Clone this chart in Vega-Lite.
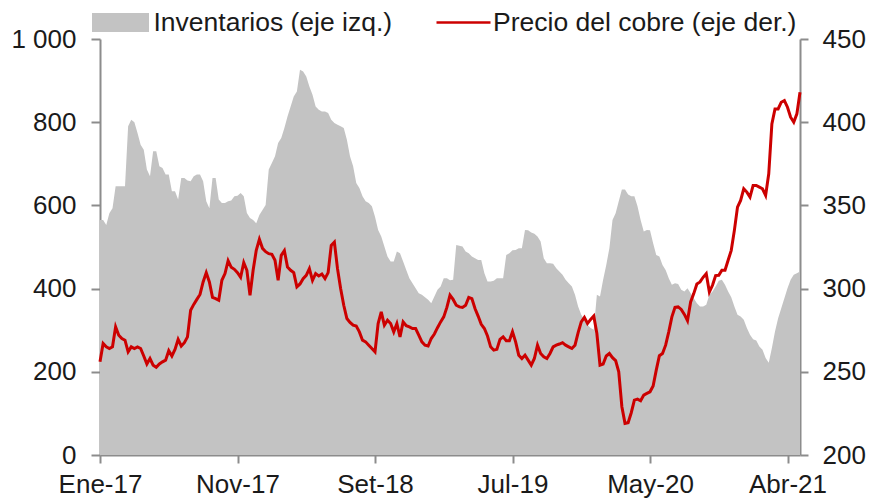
{
  "$schema": "https://vega.github.io/schema/vega-lite/v6.json",
  "width": 700,
  "height": 416,
  "autosize": {"type": "none"},
  "padding": {"left": 100, "top": 39, "right": 71, "bottom": 46},
  "background": "white",
  "config": {
    "view": {"stroke": null},
    "font": "Liberation Sans",
    "axis": {"grid": false, "domainColor": "#8c8c8c", "domainWidth": 2, "tickColor": "#8c8c8c", "tickWidth": 2, "labelFontSize": 26, "labelColor": "#1a1a1a", "labelFont": "Liberation Sans", "title": null, "labelFlush": false, "labelOverlap": false, "labelBound": false},
    "legend": {"labelFont": "Liberation Sans", "labelFontSize": 26.5, "labelColor": "#1a1a1a", "padding": 0, "titlePadding": 0, "labelLimit": 600}
  },
  "data": {"values": [
    {"fecha":"2017-01-13","inventarios":565,"precio":256},
    {"fecha":"2017-01-20","inventarios":565,"precio":267},
    {"fecha":"2017-01-27","inventarios":553,"precio":265},
    {"fecha":"2017-02-03","inventarios":581,"precio":264},
    {"fecha":"2017-02-10","inventarios":593,"precio":265},
    {"fecha":"2017-02-17","inventarios":646,"precio":277},
    {"fecha":"2017-02-24","inventarios":646,"precio":272},
    {"fecha":"2017-03-03","inventarios":646,"precio":270},
    {"fecha":"2017-03-10","inventarios":646,"precio":269},
    {"fecha":"2017-03-17","inventarios":790,"precio":262},
    {"fecha":"2017-03-24","inventarios":806,"precio":265},
    {"fecha":"2017-03-31","inventarios":800,"precio":264},
    {"fecha":"2017-04-07","inventarios":774,"precio":265},
    {"fecha":"2017-04-14","inventarios":746,"precio":264},
    {"fecha":"2017-04-21","inventarios":734,"precio":259.5},
    {"fecha":"2017-04-28","inventarios":686,"precio":254.7},
    {"fecha":"2017-05-05","inventarios":670,"precio":258},
    {"fecha":"2017-05-12","inventarios":730,"precio":254},
    {"fecha":"2017-05-19","inventarios":730,"precio":252.7},
    {"fecha":"2017-05-26","inventarios":694,"precio":254.7},
    {"fecha":"2017-06-02","inventarios":690,"precio":256},
    {"fecha":"2017-06-09","inventarios":674,"precio":257},
    {"fecha":"2017-06-16","inventarios":674,"precio":262.7},
    {"fecha":"2017-06-23","inventarios":634,"precio":259.5},
    {"fecha":"2017-06-30","inventarios":634,"precio":263.5},
    {"fecha":"2017-07-07","inventarios":614,"precio":269.5},
    {"fecha":"2017-07-14","inventarios":666,"precio":265.5},
    {"fecha":"2017-07-21","inventarios":666,"precio":267.5},
    {"fecha":"2017-07-28","inventarios":660,"precio":271},
    {"fecha":"2017-08-04","inventarios":658,"precio":287},
    {"fecha":"2017-08-11","inventarios":670,"precio":290.5},
    {"fecha":"2017-08-18","inventarios":674,"precio":293.5},
    {"fecha":"2017-08-25","inventarios":674,"precio":296.5},
    {"fecha":"2017-09-01","inventarios":658,"precio":304},
    {"fecha":"2017-09-08","inventarios":610,"precio":309.6},
    {"fecha":"2017-09-15","inventarios":593,"precio":304},
    {"fecha":"2017-09-22","inventarios":666,"precio":294.7},
    {"fecha":"2017-09-29","inventarios":666,"precio":294},
    {"fecha":"2017-10-06","inventarios":614,"precio":293},
    {"fecha":"2017-10-13","inventarios":606,"precio":305},
    {"fecha":"2017-10-20","inventarios":606,"precio":309},
    {"fecha":"2017-10-27","inventarios":610,"precio":316.8},
    {"fecha":"2017-11-03","inventarios":612,"precio":312.8},
    {"fecha":"2017-11-10","inventarios":622,"precio":311.6},
    {"fecha":"2017-11-17","inventarios":623,"precio":309.6},
    {"fecha":"2017-11-24","inventarios":630,"precio":306.8},
    {"fecha":"2017-12-01","inventarios":622,"precio":315.6},
    {"fecha":"2017-12-08","inventarios":582,"precio":311},
    {"fecha":"2017-12-15","inventarios":570,"precio":296},
    {"fecha":"2017-12-22","inventarios":565,"precio":311},
    {"fecha":"2017-12-29","inventarios":557,"precio":323},
    {"fecha":"2018-01-05","inventarios":577,"precio":329.6},
    {"fecha":"2018-01-12","inventarios":589,"precio":324.2},
    {"fecha":"2018-01-19","inventarios":601,"precio":322.2},
    {"fecha":"2018-01-26","inventarios":686,"precio":321},
    {"fecha":"2018-02-02","inventarios":702,"precio":320.6},
    {"fecha":"2018-02-09","inventarios":718,"precio":317},
    {"fecha":"2018-02-16","inventarios":750,"precio":305},
    {"fecha":"2018-02-23","inventarios":762,"precio":320},
    {"fecha":"2018-03-02","inventarios":786,"precio":322.8},
    {"fecha":"2018-03-09","inventarios":814,"precio":313},
    {"fecha":"2018-03-16","inventarios":838,"precio":311},
    {"fecha":"2018-03-23","inventarios":862,"precio":309.6},
    {"fecha":"2018-03-30","inventarios":874,"precio":301},
    {"fecha":"2018-04-06","inventarios":926,"precio":302.8},
    {"fecha":"2018-04-13","inventarios":922,"precio":306},
    {"fecha":"2018-04-20","inventarios":910,"precio":308},
    {"fecha":"2018-04-27","inventarios":886,"precio":312},
    {"fecha":"2018-05-04","inventarios":866,"precio":305},
    {"fecha":"2018-05-11","inventarios":838,"precio":309},
    {"fecha":"2018-05-18","inventarios":830,"precio":307.6},
    {"fecha":"2018-05-25","inventarios":826,"precio":308.8},
    {"fecha":"2018-06-01","inventarios":826,"precio":306},
    {"fecha":"2018-06-08","inventarios":822,"precio":309.6},
    {"fecha":"2018-06-15","inventarios":806,"precio":326},
    {"fecha":"2018-06-22","inventarios":798,"precio":328},
    {"fecha":"2018-06-29","inventarios":794,"precio":312},
    {"fecha":"2018-07-06","inventarios":790,"precio":300},
    {"fecha":"2018-07-13","inventarios":786,"precio":290},
    {"fecha":"2018-07-20","inventarios":758,"precio":282},
    {"fecha":"2018-07-27","inventarios":718,"precio":279.7},
    {"fecha":"2018-08-03","inventarios":694,"precio":278},
    {"fecha":"2018-08-10","inventarios":654,"precio":277.5},
    {"fecha":"2018-08-17","inventarios":642,"precio":274},
    {"fecha":"2018-08-24","inventarios":622,"precio":269},
    {"fecha":"2018-08-31","inventarios":610,"precio":268},
    {"fecha":"2018-09-07","inventarios":606,"precio":266},
    {"fecha":"2018-09-14","inventarios":598,"precio":264},
    {"fecha":"2018-09-21","inventarios":573,"precio":262},
    {"fecha":"2018-09-28","inventarios":541,"precio":279},
    {"fecha":"2018-10-05","inventarios":525,"precio":286},
    {"fecha":"2018-10-12","inventarios":501,"precio":278},
    {"fecha":"2018-10-19","inventarios":477,"precio":281},
    {"fecha":"2018-10-26","inventarios":465,"precio":279},
    {"fecha":"2018-11-02","inventarios":465,"precio":274},
    {"fecha":"2018-11-09","inventarios":489,"precio":279},
    {"fecha":"2018-11-16","inventarios":485,"precio":271},
    {"fecha":"2018-11-23","inventarios":465,"precio":280},
    {"fecha":"2018-11-30","inventarios":445,"precio":277.7},
    {"fecha":"2018-12-07","inventarios":425,"precio":277},
    {"fecha":"2018-12-14","inventarios":413,"precio":276},
    {"fecha":"2018-12-21","inventarios":401,"precio":276},
    {"fecha":"2018-12-28","inventarios":389,"precio":272},
    {"fecha":"2019-01-04","inventarios":385,"precio":268},
    {"fecha":"2019-01-11","inventarios":379,"precio":266},
    {"fecha":"2019-01-18","inventarios":373,"precio":265.5},
    {"fecha":"2019-01-25","inventarios":365,"precio":270},
    {"fecha":"2019-02-01","inventarios":381,"precio":272.7},
    {"fecha":"2019-02-08","inventarios":397,"precio":276.5},
    {"fecha":"2019-02-15","inventarios":405,"precio":280},
    {"fecha":"2019-02-22","inventarios":425,"precio":283},
    {"fecha":"2019-03-01","inventarios":425,"precio":288.7},
    {"fecha":"2019-03-08","inventarios":420,"precio":296},
    {"fecha":"2019-03-15","inventarios":421,"precio":293.5},
    {"fecha":"2019-03-22","inventarios":505,"precio":290},
    {"fecha":"2019-03-29","inventarios":503,"precio":289},
    {"fecha":"2019-04-05","inventarios":501,"precio":288.7},
    {"fecha":"2019-04-12","inventarios":489,"precio":290},
    {"fecha":"2019-04-19","inventarios":485,"precio":294.7},
    {"fecha":"2019-04-26","inventarios":477,"precio":294},
    {"fecha":"2019-05-03","inventarios":473,"precio":288},
    {"fecha":"2019-05-10","inventarios":469,"precio":283.5},
    {"fecha":"2019-05-17","inventarios":469,"precio":278.5},
    {"fecha":"2019-05-24","inventarios":437,"precio":276},
    {"fecha":"2019-05-31","inventarios":417,"precio":271.5},
    {"fecha":"2019-06-07","inventarios":417,"precio":265},
    {"fecha":"2019-06-14","inventarios":419,"precio":263},
    {"fecha":"2019-06-21","inventarios":425,"precio":263.5},
    {"fecha":"2019-06-28","inventarios":425,"precio":269.5},
    {"fecha":"2019-07-05","inventarios":425,"precio":271},
    {"fecha":"2019-07-12","inventarios":481,"precio":268.7},
    {"fecha":"2019-07-19","inventarios":485,"precio":268.7},
    {"fecha":"2019-07-26","inventarios":492,"precio":274},
    {"fecha":"2019-08-02","inventarios":493,"precio":268},
    {"fecha":"2019-08-09","inventarios":497,"precio":260},
    {"fecha":"2019-08-16","inventarios":497,"precio":258},
    {"fecha":"2019-08-23","inventarios":541,"precio":260},
    {"fecha":"2019-08-30","inventarios":540,"precio":257},
    {"fecha":"2019-09-06","inventarios":535,"precio":254},
    {"fecha":"2019-09-13","inventarios":532,"precio":258},
    {"fecha":"2019-09-20","inventarios":525,"precio":266},
    {"fecha":"2019-09-27","inventarios":513,"precio":261},
    {"fecha":"2019-10-04","inventarios":473,"precio":259},
    {"fecha":"2019-10-11","inventarios":461,"precio":258},
    {"fecha":"2019-10-18","inventarios":461,"precio":261},
    {"fecha":"2019-10-25","inventarios":460,"precio":265},
    {"fecha":"2019-11-01","inventarios":449,"precio":266},
    {"fecha":"2019-11-08","inventarios":441,"precio":266.7},
    {"fecha":"2019-11-15","inventarios":433,"precio":267.5},
    {"fecha":"2019-11-22","inventarios":421,"precio":266},
    {"fecha":"2019-11-29","inventarios":413,"precio":265},
    {"fecha":"2019-12-06","inventarios":405,"precio":264},
    {"fecha":"2019-12-13","inventarios":385,"precio":266},
    {"fecha":"2019-12-20","inventarios":357,"precio":273.5},
    {"fecha":"2019-12-27","inventarios":337,"precio":280},
    {"fecha":"2020-01-03","inventarios":325,"precio":282.7},
    {"fecha":"2020-01-10","inventarios":313,"precio":279},
    {"fecha":"2020-01-17","inventarios":305,"precio":281.5},
    {"fecha":"2020-01-24","inventarios":301,"precio":283.5},
    {"fecha":"2020-01-31","inventarios":385,"precio":273},
    {"fecha":"2020-02-07","inventarios":381,"precio":254},
    {"fecha":"2020-02-14","inventarios":421,"precio":254.7},
    {"fecha":"2020-02-21","inventarios":457,"precio":259.5},
    {"fecha":"2020-02-28","inventarios":497,"precio":261},
    {"fecha":"2020-03-06","inventarios":565,"precio":258.5},
    {"fecha":"2020-03-13","inventarios":581,"precio":256.7},
    {"fecha":"2020-03-20","inventarios":610,"precio":250},
    {"fecha":"2020-03-27","inventarios":638,"precio":229},
    {"fecha":"2020-04-03","inventarios":638,"precio":219},
    {"fecha":"2020-04-10","inventarios":626,"precio":219.4},
    {"fecha":"2020-04-17","inventarios":622,"precio":225.4},
    {"fecha":"2020-04-24","inventarios":622,"precio":233},
    {"fecha":"2020-05-01","inventarios":598,"precio":233.6},
    {"fecha":"2020-05-08","inventarios":565,"precio":232.6},
    {"fecha":"2020-05-15","inventarios":537,"precio":236},
    {"fecha":"2020-05-22","inventarios":541,"precio":237},
    {"fecha":"2020-05-29","inventarios":540,"precio":238},
    {"fecha":"2020-06-05","inventarios":509,"precio":241.5},
    {"fecha":"2020-06-12","inventarios":481,"precio":251},
    {"fecha":"2020-06-19","inventarios":477,"precio":259.7},
    {"fecha":"2020-06-26","inventarios":457,"precio":261},
    {"fecha":"2020-07-03","inventarios":445,"precio":266},
    {"fecha":"2020-07-10","inventarios":425,"precio":274},
    {"fecha":"2020-07-17","inventarios":409,"precio":283},
    {"fecha":"2020-07-24","inventarios":413,"precio":288.7},
    {"fecha":"2020-07-31","inventarios":411,"precio":289},
    {"fecha":"2020-08-07","inventarios":397,"precio":287.5},
    {"fecha":"2020-08-14","inventarios":393,"precio":284.5},
    {"fecha":"2020-08-21","inventarios":401,"precio":280.7},
    {"fecha":"2020-08-28","inventarios":389,"precio":292},
    {"fecha":"2020-09-04","inventarios":377,"precio":297},
    {"fecha":"2020-09-11","inventarios":365,"precio":302.8},
    {"fecha":"2020-09-18","inventarios":357,"precio":304},
    {"fecha":"2020-09-25","inventarios":357,"precio":306.8},
    {"fecha":"2020-10-02","inventarios":361,"precio":309},
    {"fecha":"2020-10-09","inventarios":385,"precio":298},
    {"fecha":"2020-10-16","inventarios":393,"precio":302},
    {"fecha":"2020-10-23","inventarios":405,"precio":307.8},
    {"fecha":"2020-10-30","inventarios":419,"precio":308},
    {"fecha":"2020-11-06","inventarios":421,"precio":311},
    {"fecha":"2020-11-13","inventarios":409,"precio":311},
    {"fecha":"2020-11-20","inventarios":393,"precio":317},
    {"fecha":"2020-11-27","inventarios":379,"precio":323},
    {"fecha":"2020-12-04","inventarios":357,"precio":335},
    {"fecha":"2020-12-11","inventarios":337,"precio":349},
    {"fecha":"2020-12-18","inventarios":333,"precio":353},
    {"fecha":"2020-12-25","inventarios":325,"precio":360},
    {"fecha":"2021-01-01","inventarios":305,"precio":358},
    {"fecha":"2021-01-08","inventarios":289,"precio":355},
    {"fecha":"2021-01-15","inventarios":278,"precio":362},
    {"fecha":"2021-01-22","inventarios":275,"precio":362},
    {"fecha":"2021-01-29","inventarios":261,"precio":361},
    {"fecha":"2021-02-05","inventarios":253,"precio":360},
    {"fecha":"2021-02-12","inventarios":233,"precio":356},
    {"fecha":"2021-02-19","inventarios":222,"precio":369},
    {"fecha":"2021-02-26","inventarios":257,"precio":399},
    {"fecha":"2021-03-05","inventarios":297,"precio":408},
    {"fecha":"2021-03-12","inventarios":329,"precio":408},
    {"fecha":"2021-03-19","inventarios":353,"precio":412},
    {"fecha":"2021-03-26","inventarios":377,"precio":413},
    {"fecha":"2021-04-02","inventarios":401,"precio":409},
    {"fecha":"2021-04-09","inventarios":421,"precio":403},
    {"fecha":"2021-04-16","inventarios":433,"precio":400},
    {"fecha":"2021-04-23","inventarios":437,"precio":405},
    {"fecha":"2021-04-30","inventarios":441,"precio":418}
  ]},
  "encoding": {
    "x": {
      "field": "fecha",
      "type": "temporal",
      "scale": {"type": "utc", "domain": [{"year": 2017, "month": 1, "date": 13, "utc": true}, {"year": 2021, "month": 4, "date": 30, "utc": true}]},
      "axis": {
        "values": [
          {"year": 2017, "month": 1, "date": 13, "utc": true},
          {"year": 2017, "month": 11, "date": 17, "utc": true},
          {"year": 2018, "month": 9, "date": 21, "utc": true},
          {"year": 2019, "month": 7, "date": 26, "utc": true},
          {"year": 2020, "month": 5, "date": 29, "utc": true},
          {"year": 2021, "month": 4, "date": 2, "utc": true}
        ],
        "labelExpr": "['Ene','Feb','Mar','Abr','May','Jun','Jul','Ago','Set','Oct','Nov','Dic'][utcmonth(datum.value)] + '-' + utcFormat(datum.value, '%y')",
        "tickSize": 8,
        "labelPadding": 8
      }
    }
  },
  "layer": [
    {
      "mark": {"type": "area", "color": "#c3c3c3", "interpolate": "linear"},
      "encoding": {
        "y": {"field": "inventarios", "type": "quantitative", "scale": {"domain": [0, 1000], "nice": false, "zero": true},
          "axis": {"orient": "left", "values": [0, 200, 400, 600, 800, 1000], "labelExpr": "replace(format(datum.value, ','), ',', ' ')", "tickSize": 9, "labelPadding": 15}},
        "fill": {"datum": "Inventarios (eje izq.)", "scale": {"range": ["#c3c3c3"]},
          "legend": {"orient": "none", "legendX": 1.5, "legendY": -35.5, "title": null, "symbolType": "M-1.5,-0.5H1.5V0.5H-1.5Z", "symbolSize": 1444, "symbolStrokeWidth": 0, "labelOffset": 14, "labelLimit": 600}}
      }
    },
    {
      "mark": {"type": "line", "color": "#cc0000", "strokeWidth": 3},
      "encoding": {
        "y": {"field": "precio", "type": "quantitative", "scale": {"domain": [200, 450], "nice": false, "zero": false},
          "axis": {"orient": "right", "values": [200, 250, 300, 350, 400, 450], "tickSize": 8, "labelPadding": 14}},
        "stroke": {"datum": "Precio del cobre (eje der.)", "scale": {"range": ["#cc0000"]},
          "legend": {"orient": "none", "legendX": 335, "legendY": -45, "title": null, "symbolType": "stroke", "symbolSize": 2916, "symbolStrokeWidth": 2.5, "labelOffset": 1, "labelLimit": 600}}
      }
    }
  ],
  "resolve": {"scale": {"y": "independent", "fill": "independent", "stroke": "independent"}}
}
